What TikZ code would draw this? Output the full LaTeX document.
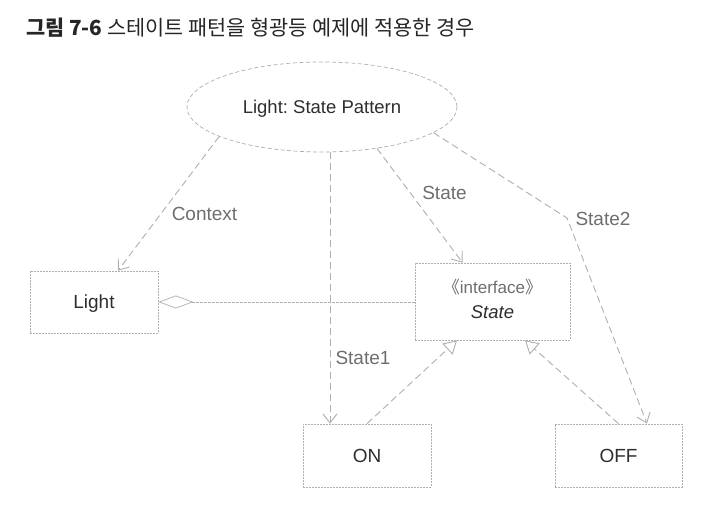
\documentclass[tikz,border=0pt]{standalone}
\usepackage{fontspec}
\setmainfont{Liberation Sans}
\newfontfamily\krfont{Noto Sans CJK KR}
\usetikzlibrary{arrows.meta,shapes.geometric}
\definecolor{linegray}{HTML}{AFAFAF}
\definecolor{textdark}{HTML}{2E2E2E}
\definecolor{labelgray}{HTML}{6E6E6E}
\frenchspacing
\begin{document}
\begin{tikzpicture}[x=1pt,y=-1pt,
  classbox/.style={draw=linegray,line width=0.7pt,dash pattern=on 2pt off 1pt,
    inner sep=0pt,text height=14pt,text depth=0pt,
    font=\fontsize{19}{22}\selectfont,text=textdark},
  conn/.style={draw=linegray,line width=0.9pt,dash pattern=on 7pt off 4pt},
  lbl/.style={font=\fontsize{19}{22}\selectfont,text=labelgray,anchor=base,inner sep=0pt},
  vtip/.style={-{Straight Barb[length=9pt,width=14pt]}},
  realize/.style={-{Triangle[open,length=13pt,width=15pt]}}
]
\fill[white] (0,0) rectangle (710,526);
\useasboundingbox (0,0) rectangle (710,526);

% title
\node[anchor=base west,inner sep=0pt,font=\krfont\fontsize{20.8}{24}\selectfont,text=black!85]
  (title) at (26,35.5) {\textbf{그림 7-6} 스테이트 패턴을 형광등 예제에 적용한 경우};

% nodes
\node[ellipse,draw=linegray,line width=0.7pt,dash pattern=on 4pt off 2.5pt,
  minimum width=270pt,minimum height=90pt,inner sep=0pt,
  text height=13pt,text depth=0pt,font=\fontsize{18.5}{22}\selectfont,text=textdark]
  (ell) at (322,107) {Light: State Pattern};

\node[classbox,minimum width=128pt,minimum height=62pt] (light) at (94,302) {Light};
\node[classbox,minimum width=155pt,minimum height=77pt] (iface) at (492.5,301.5) {};
\node[anchor=base,inner sep=0pt,font=\fontsize{17}{20}\selectfont,text=labelgray]
  (stereo) at (492.5,294) {{\krfont 《}interface{\krfont 》}};
\node[anchor=base,inner sep=0pt,font=\itshape\fontsize{18.5}{22}\selectfont,text=textdark]
  (iname) at (492.5,318.5) {State};
\node[classbox,minimum width=128pt,minimum height=63pt] (on) at (367,455.5) {ON};
\node[classbox,minimum width=127pt,minimum height=63pt] (off) at (618.5,455.5) {OFF};

% connectors
\draw[conn,vtip] (ell.196) -- ([xshift=24pt]light.north);
\draw[conn,vtip] (ell.280) -- (ell.280 |- on.north);
\draw[conn,vtip] (ell.323) -- ([xshift=-30pt]iface.north);
\coordinate (bend) at (567,218);
\draw[conn,vtip] (ell.347) -- (bend) -- ([xshift=28.5pt]off.north);
\draw[draw=linegray,line width=0.7pt,dash pattern=on 3pt off 1pt,
  {Diamond[open,length=35pt,width=13pt]}-] (light.east) -- (iface.west |- light.east);
\draw[conn,realize] (on.north) -- ([xshift=-35.5pt]iface.south);
\draw[conn,realize] (off.north) -- ([xshift=32.5pt]iface.south);

% labels
\node[lbl] (lctx) at (204.5,221) {Context};
\node[lbl] (lst) at (444.5,200) {State};
\node[lbl] (lst1) at (363,365) {State1};
\node[lbl] (lst2) at (603,226) {State2};
\end{tikzpicture}
\end{document}
